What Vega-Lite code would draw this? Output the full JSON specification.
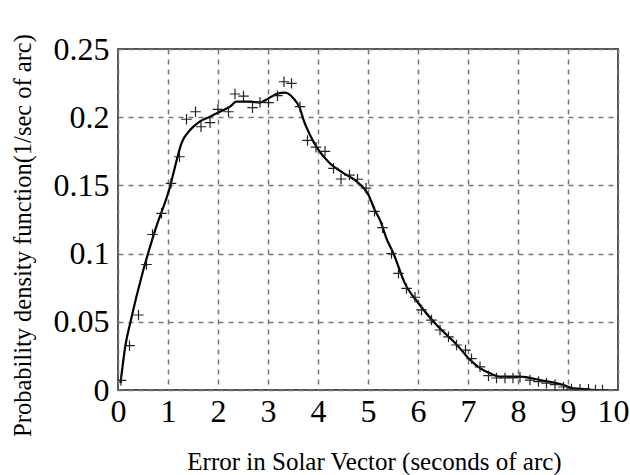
{
  "$schema": "https://vega.github.io/schema/vega-lite/v6.json",
  "width": 500,
  "height": 341,
  "autosize": {"type": "none"},
  "padding": {"left": 118, "top": 49, "right": 12, "bottom": 85},
  "background": "white",
  "config": {
    "font": "Liberation Serif",
    "view": {"stroke": "#555555", "strokeWidth": 2},
    "axis": {
      "grid": true,
      "gridColor": "#777777",
      "gridDash": [5, 5],
      "gridWidth": 1.5,
      "gridOpacity": 1,
      "domain": false,
      "ticks": false,
      "labelFont": "Liberation Serif",
      "labelFontSize": 32,
      "labelColor": "black",
      "titleFont": "Liberation Serif",
      "titleFontSize": 24.5,
      "titleFontWeight": "normal",
      "titleColor": "black"
    }
  },
  "datasets": {
    "samples": [
      {"x": 0.06, "y": 0.007}, {"x": 0.23, "y": 0.0325}, {"x": 0.41, "y": 0.055}, {"x": 0.57, "y": 0.092},
      {"x": 0.69, "y": 0.114}, {"x": 0.87, "y": 0.1295}, {"x": 1.06, "y": 0.1515}, {"x": 1.23, "y": 0.171},
      {"x": 1.37, "y": 0.1985}, {"x": 1.55, "y": 0.204}, {"x": 1.66, "y": 0.193}, {"x": 1.84, "y": 0.196},
      {"x": 2.0, "y": 0.2057}, {"x": 2.21, "y": 0.204}, {"x": 2.34, "y": 0.217}, {"x": 2.51, "y": 0.2155},
      {"x": 2.69, "y": 0.207}, {"x": 2.84, "y": 0.211}, {"x": 3.01, "y": 0.2107}, {"x": 3.19, "y": 0.2158},
      {"x": 3.32, "y": 0.226}, {"x": 3.47, "y": 0.2248}, {"x": 3.64, "y": 0.2077}, {"x": 3.79, "y": 0.183},
      {"x": 3.96, "y": 0.178}, {"x": 4.14, "y": 0.175}, {"x": 4.31, "y": 0.1625}, {"x": 4.46, "y": 0.1547},
      {"x": 4.63, "y": 0.1576}, {"x": 4.79, "y": 0.1545}, {"x": 4.96, "y": 0.148}, {"x": 5.13, "y": 0.131},
      {"x": 5.29, "y": 0.119}, {"x": 5.47, "y": 0.1}, {"x": 5.61, "y": 0.0855}, {"x": 5.77, "y": 0.0745},
      {"x": 5.94, "y": 0.068}, {"x": 6.07, "y": 0.0587}, {"x": 6.27, "y": 0.0513}, {"x": 6.44, "y": 0.044},
      {"x": 6.61, "y": 0.039}, {"x": 6.77, "y": 0.033}, {"x": 6.95, "y": 0.0293}, {"x": 7.07, "y": 0.023},
      {"x": 7.24, "y": 0.017}, {"x": 7.41, "y": 0.0105}, {"x": 7.57, "y": 0.0088}, {"x": 7.74, "y": 0.0088},
      {"x": 7.9, "y": 0.0088}, {"x": 8.04, "y": 0.0093}, {"x": 8.24, "y": 0.0073}, {"x": 8.41, "y": 0.0062},
      {"x": 8.57, "y": 0.005}, {"x": 8.74, "y": 0.004}, {"x": 8.91, "y": 0.0022}, {"x": 9.07, "y": 0.0008},
      {"x": 9.24, "y": 0.0005}, {"x": 9.41, "y": 0.0005}, {"x": 9.55, "y": 0.0}, {"x": 9.69, "y": 0.0}
    ],
    "fit": [
      {"x": 0.05, "y": 0.005}, {"x": 0.15, "y": 0.033}, {"x": 0.25, "y": 0.05}, {"x": 0.5, "y": 0.087},
      {"x": 0.75, "y": 0.118}, {"x": 1.04, "y": 0.149}, {"x": 1.15, "y": 0.165}, {"x": 1.27, "y": 0.181},
      {"x": 1.44, "y": 0.1906}, {"x": 1.64, "y": 0.197}, {"x": 1.84, "y": 0.2004}, {"x": 2.04, "y": 0.204},
      {"x": 2.24, "y": 0.2077}, {"x": 2.37, "y": 0.2114}, {"x": 2.64, "y": 0.2114}, {"x": 2.84, "y": 0.2107},
      {"x": 3.01, "y": 0.2138}, {"x": 3.17, "y": 0.217}, {"x": 3.34, "y": 0.218}, {"x": 3.51, "y": 0.2138},
      {"x": 3.64, "y": 0.2065}, {"x": 3.71, "y": 0.198}, {"x": 3.84, "y": 0.187}, {"x": 4.01, "y": 0.176},
      {"x": 4.24, "y": 0.166}, {"x": 4.51, "y": 0.159}, {"x": 4.77, "y": 0.153}, {"x": 5.01, "y": 0.143},
      {"x": 5.14, "y": 0.1316}, {"x": 5.24, "y": 0.1246}, {"x": 5.37, "y": 0.111}, {"x": 5.51, "y": 0.1},
      {"x": 5.74, "y": 0.078}, {"x": 6.01, "y": 0.0636}, {"x": 6.34, "y": 0.0489}, {"x": 6.81, "y": 0.0318},
      {"x": 7.01, "y": 0.0232}, {"x": 7.24, "y": 0.016}, {"x": 7.44, "y": 0.0122}, {"x": 7.64, "y": 0.0098},
      {"x": 8.04, "y": 0.0098}, {"x": 8.44, "y": 0.0073}, {"x": 8.91, "y": 0.0037}, {"x": 9.11, "y": 0.0012},
      {"x": 9.44, "y": 0.0005}
    ]
  },
  "encoding": {
    "x": {
      "field": "x",
      "type": "quantitative",
      "scale": {"domain": [0, 10], "nice": false, "zero": false},
      "axis": {
        "values": [0, 1, 2, 3, 4, 5, 6, 7, 8, 9, 10],
        "format": "d",
        "labelPadding": 6,
        "labelFlush": false,
        "labelOverlap": false,
        "labelAlign": {"condition": {"test": "datum.value == 10", "value": "right"}, "value": "center"},
        "labelOffset": {"condition": {"test": "datum.value == 10", "value": 11}, "value": 0},
        "title": "Error in Solar Vector (seconds of arc)",
        "titleBaseline": "alphabetic",
        "titleY": 79,
        "titleX": 256,
        "titleFontSize": 25
      }
    },
    "y": {
      "field": "y",
      "type": "quantitative",
      "scale": {"domain": [0, 0.25], "nice": false},
      "axis": {
        "values": [0, 0.05, 0.1, 0.15, 0.2, 0.25],
        "format": "~g",
        "labelPadding": 9,
        "labelFlush": false,
        "labelOverlap": false,
        "title": "Probability density function(1/sec of arc)",
        "titleBaseline": "alphabetic",
        "titleX": -88,
        "titleY": 186,
        "titleAngle": -90
      }
    }
  },
  "layer": [
    {
      "data": {"name": "fit"},
      "mark": {"type": "line", "color": "black", "strokeWidth": 2.2, "interpolate": "monotone", "clip": true}
    },
    {
      "data": {"name": "samples"},
      "mark": {
        "type": "point",
        "shape": "M-1,0L1,0M0,-1L0,1",
        "filled": false,
        "stroke": "#222222",
        "strokeWidth": 1.2,
        "size": 110,
        "opacity": 1,
        "clip": true
      }
    }
  ]
}
